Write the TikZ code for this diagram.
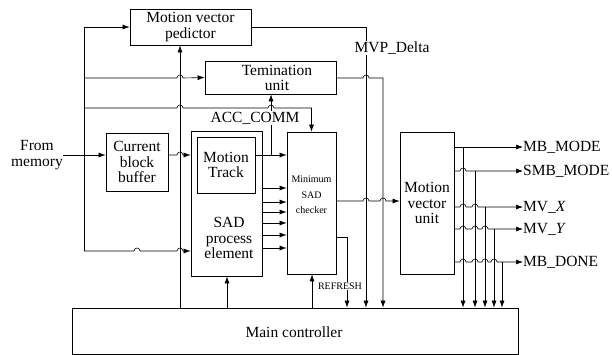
\documentclass[tikz,border=0pt]{standalone}
\usepackage{fontspec}
\setmainfont{Liberation Serif}
\usetikzlibrary{arrows.meta}
\begin{document}
\begin{tikzpicture}[x=1pt,y=-1pt,
  every node/.style={font=\fontsize{15.5}{15.5}\selectfont, align=center, inner sep=0pt},
  box/.style={draw, line width=0.8pt},
  ln/.style={line width=0.6pt},
  arr/.style={ln, -{Latex[length=7pt,width=5pt]}},
  hop/.style n args={2}{insert path={-- ({#1-3},#2) arc[start angle=180,end angle=0,radius=3pt]}},
  small/.style={font=\fontsize{10}{15.5}\selectfont},
  lab/.style={fill=white, inner sep=1pt},
]
\useasboundingbox (0,0) rectangle (612,355);

% boxes
\node[box, minimum width=121pt, minimum height=36pt] (mvp) at (190.5,27) {Motion vector\\pedictor};
\node[box, minimum width=131pt, minimum height=33pt] (term) at (270.5,77.5) {};
\node at (277,78) {Temination\\unit};
\node[box, minimum width=62pt, minimum height=58pt] (cbb) at (137,162) {Current\\block\\buffer};
\node[box, minimum width=71pt, minimum height=145pt] (sad) at (226.5,203.5) {};
\node at (229,238) {SAD\\process\\element};
\node[box, minimum width=58pt, minimum height=56pt] (mt) at (226,165) {Motion\\Track};
\node[box, minimum width=49pt, minimum height=142pt] (msc) at (311.5,203) {};
\node[small] at (311.5,195) {Minimum\\SAD\\checker};
\node[box, minimum width=54pt, minimum height=142pt] (mvu) at (427,203) {Motion\\vector\\unit};
\node[box, minimum width=446pt, minimum height=46pt] (mc) at (295,331) {};
\node at (294,332) {Main controller};

\node (mem) at (37,155) {From\\memory};
\coordinate (j) at (84,155);

% input
\draw[arr] (mem.east |- j) -- (j -| cbb.west);
% left bus
\draw[arr] (j) |- (mvp.west);
\draw[ln] (j) -- (84,251);
\draw[arr] (84,78) [hop={180}{78}] -- (term.west);
\draw[arr] (84,108) [hop={180}{108}] [hop={271}{108}] -- (msc.north |- 84,108) -- (msc.north);
\draw[arr] (84,251) [hop={137}{251}] [hop={180}{251}] -- (sad.west |- 84,251);

% vertical to MVP
\draw[arr] (mc.north -| 180,0) -- (mvp.south -| 180,0);

% data path
\draw[arr] (cbb.east |- j) [hop={180}{155}] -- (sad.west |- j);
\draw[arr] (mt.east |- j) -- (msc.west |- j);
\draw[arr] (271,155) -- (term.south -| 271,0);
\node[lab] at (255,118) {ACC\_COMM};

\foreach \yy in {188,202,212,223,235,248}
  \draw[arr] (sad.east |- 0,\yy) -- (msc.west |- 0,\yy);

\draw[arr] (mc.north -| 227,0) -- (sad.south -| 227,0);
\draw[arr] (mc.north -| 312,0) -- (msc.south -| 312,0);

% refresh
\draw[arr] (msc.east |- 0,237) -| (mc.north -| 347,0);
\node[lab, small] at (340,286) {REFRESH};

% MVP delta
\draw[arr] (mvp.east) -| (mc.north -| 366,0);
\node[lab] at (392,48) {MVP\_Delta};

% termination out
\draw[arr] (term.east |- 0,78) [hop={366}{78}] -| (mc.north -| 383,0);

% checker to MV unit
\draw[arr] (msc.east |- 0,201) [hop={366}{201}] [hop={383}{201}] -- (mvu.west |- 0,201);

% outputs
\node[anchor=west] (o1) at (523,147) {MB\_MODE};
\node[anchor=west] (o2) at (523,171) {SMB\_MODE};
\node[anchor=west] (o3) at (523,207) {MV\_\textit{X}};
\node[anchor=west] (o4) at (523,229) {MV\_\textit{Y}};
\node[anchor=west] (o5) at (523,262) {MB\_DONE};

\draw[arr] (mvu.east |- o1.west) -- (o1.west);
\draw[arr] (mvu.east |- o2.west) [hop={463}{171}] -- (o2.west);
\draw[arr] (mvu.east |- o3.west) [hop={463}{207}] [hop={475}{207}] -- (o3.west);
\draw[arr] (mvu.east |- o4.west) [hop={463}{229}] [hop={475}{229}] [hop={485}{229}] -- (o4.west);
\draw[arr] (mvu.east |- o5.west) [hop={463}{262}] [hop={475}{262}] [hop={485}{262}] [hop={494}{262}] -- (o5.west);

\draw[arr] (463,147) -- (mc.north -| 463,0);
\draw[arr] (475,171) -- (mc.north -| 475,0);
\draw[arr] (485,207) -- (mc.north -| 485,0);
\draw[arr] (494,229) -- (mc.north -| 494,0);
\draw[arr] (502,262) -- (mc.north -| 502,0);
\end{tikzpicture}
\end{document}
